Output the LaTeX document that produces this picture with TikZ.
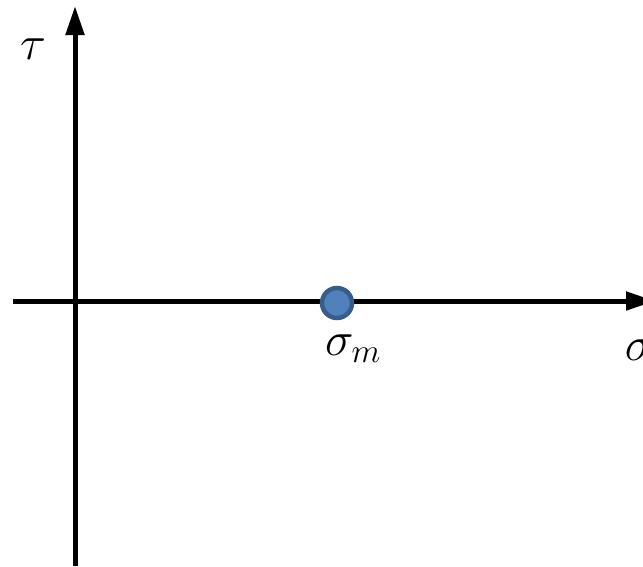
\RequirePackage{fix-cm}
\documentclass[tikz,border=0pt]{standalone}
\usetikzlibrary{arrows.meta}
\definecolor{ptfill}{HTML}{4F81BD}
\definecolor{ptdraw}{HTML}{385D8A}
\begin{document}
\begin{tikzpicture}[x=1pt,y=-1pt,
  axis/.style={line width=5pt,-{Triangle[length=29pt,width=18pt]}},
  lbl/.style={font=\fontsize{48}{48}\selectfont,inner sep=0pt},
  pt/.style={circle,fill=ptfill,draw=ptdraw,line width=4.5pt,minimum size=30pt,inner sep=0pt}]
\useasboundingbox (0,0) rectangle (643,566);
\coordinate (ybot) at (75,566);
\coordinate (ytop) at (75,6);
\coordinate (xleft) at (13,301);
\coordinate (xright) at (655,301);
\draw[axis] (ybot) -- (ytop);
\draw[axis] (xleft) -- (xright);
\node[pt] (m) at (337,303) {};
\node[lbl] (tau) at (33,49) {$\tau$};
\node[lbl] (sm) at (353,349) {$\sigma_m$};
\node[lbl] (s) at (639,350) {$\sigma$};
\end{tikzpicture}
\end{document}
